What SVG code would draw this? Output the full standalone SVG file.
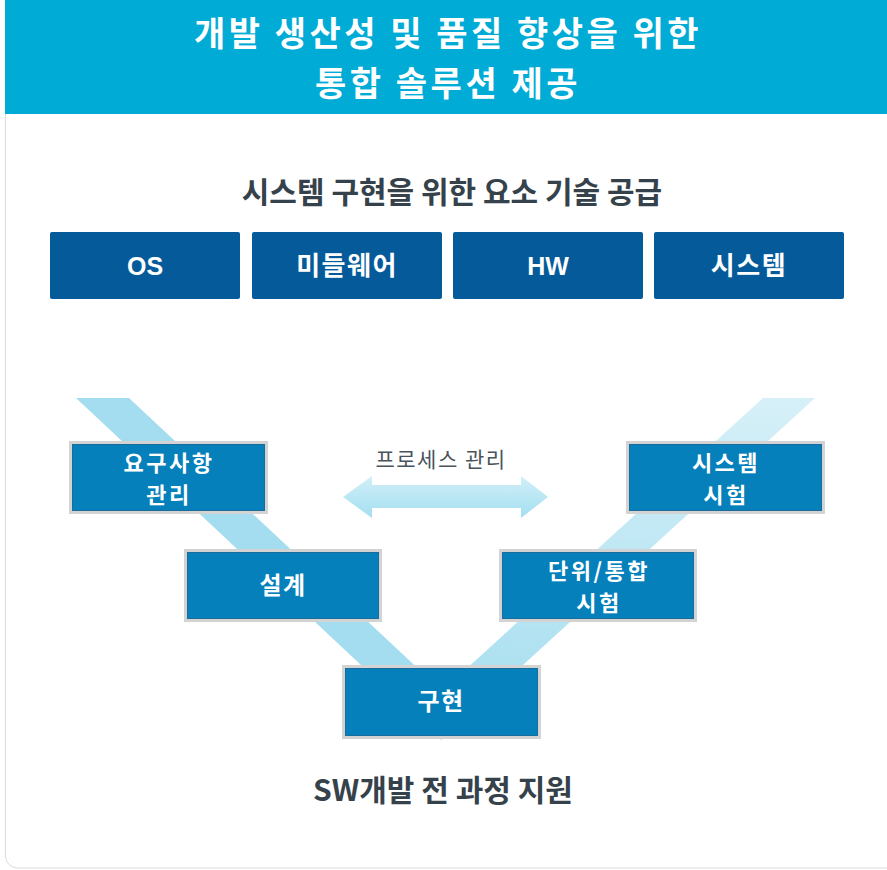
<svg xmlns="http://www.w3.org/2000/svg" width="887" height="870" viewBox="0 0 887 870">
  <defs>
    <linearGradient id="gRight" x1="0" y1="398" x2="0" y2="740" gradientUnits="userSpaceOnUse">
      <stop offset="0" stop-color="#d6f0f8"/>
      <stop offset="1" stop-color="#a3ddef"/>
    </linearGradient>
    <linearGradient id="gArrow" x1="0" y1="0" x2="0" y2="1">
      <stop offset="0" stop-color="#d2eff8"/>
      <stop offset="1" stop-color="#a3dff0"/>
    </linearGradient>
    <style>
      .title { font-family: "Noto Sans CJK KR", "Noto Sans", sans-serif; font-weight: 700; font-size: 34px; letter-spacing: 3.5px; fill: #ffffff; text-anchor: middle; }
      .sub { font-family: "Noto Sans CJK KR", "Noto Sans", sans-serif; font-weight: 700; font-size: 30px; fill: #36424b; text-anchor: middle; }
      .tbox { fill: #055b9a; }
      .ttext { font-family: "Liberation Sans", "Noto Sans CJK KR", sans-serif; font-weight: 700; font-size: 25px; fill: #ffffff; text-anchor: middle; }
      .ktext2 { font-family: "Noto Sans CJK KR", "Noto Sans", sans-serif; font-weight: 700; font-size: 26px; letter-spacing: 1.5px; fill: #ffffff; text-anchor: middle; }
      .kbox { fill: #0580bb; stroke: #d3d3d3; stroke-width: 3; }
      .kin { fill: none; stroke: #1a6c9c; stroke-width: 1; }
      .ktext { font-family: "Noto Sans CJK KR", "Noto Sans", sans-serif; font-weight: 700; font-size: 24px; letter-spacing: 1.5px; fill: #ffffff; text-anchor: middle; }
      .ktext3 { font-family: "Noto Sans CJK KR", "Noto Sans", sans-serif; font-weight: 700; font-size: 22px; letter-spacing: 2.5px; fill: #ffffff; text-anchor: middle; }
      .plabel { font-family: "Noto Sans CJK KR", "Noto Sans", sans-serif; font-weight: 400; font-size: 21px; letter-spacing: 1.5px; fill: #4a545c; text-anchor: middle; }
    </style>
  </defs>

  <rect x="0" y="0" width="887" height="870" fill="#ffffff"/>
  <!-- card -->
  <rect id="card" x="5.5" y="-12" width="892" height="880" rx="12" fill="#ffffff" stroke="#dcdcdc" stroke-width="1"/>
  <!-- header -->
  <g id="header">
    <rect x="5" y="0" width="882" height="114" fill="#00abd6"/>
    <text class="title" x="448" y="46">개발 생산성 및 품질 향상을 위한</text>
    <text class="title" x="448" y="96">통합 솔루션 제공</text>
  </g>

  <text id="subtitle" class="sub" x="452" y="203">시스템 구현을 위한 요소 기술 공급</text>

  <g id="node-os">
    <rect class="tbox" x="50" y="232" width="190" height="67" rx="2"/>
    <text class="ttext" x="145" y="275">OS</text>
  </g>
  <g id="node-middleware">
    <rect class="tbox" x="252" y="232" width="190" height="67" rx="2"/>
    <text class="ktext2" x="347" y="275">미들웨어</text>
  </g>
  <g id="node-hw">
    <rect class="tbox" x="453" y="232" width="190" height="67" rx="2"/>
    <text class="ttext" x="548" y="275">HW</text>
  </g>
  <g id="node-system">
    <rect class="tbox" x="654" y="232" width="190" height="67" rx="2"/>
    <text class="ktext2" x="749" y="275">시스템</text>
  </g>

  <!-- V band -->
  <g id="connectors">
    <polygon points="76,398 129,398 442,691 441,740" fill="#a3ddef"/>
    <polygon points="442,691 763,398 815,398 441,740" fill="url(#gRight)"/>
    <polygon points="343,497 372,476 372,485 521,485 521,476 548,497 521,518 521,508 372,508 372,518" fill="url(#gArrow)"/>
  </g>

  <text id="process-label" class="plabel" x="441" y="467">프로세스 관리</text>

  <g id="node-req">
    <rect class="kbox" x="70.5" y="442.5" width="196" height="70"/>
    <rect class="kin" x="72.5" y="444.5" width="192" height="66"/>
    <text class="ktext3" x="169" y="471">요구사항</text>
    <text class="ktext3" x="169" y="503">관리</text>
  </g>
  <g id="node-design">
    <rect class="kbox" x="185.5" y="550.5" width="195" height="70"/>
    <rect class="kin" x="187.5" y="552.5" width="191" height="66"/>
    <text class="ktext" x="283" y="594">설계</text>
  </g>
  <g id="node-impl">
    <rect class="kbox" x="343.5" y="666.5" width="196" height="71"/>
    <rect class="kin" x="345.5" y="668.5" width="192" height="67"/>
    <text class="ktext" x="441" y="710">구현</text>
  </g>
  <g id="node-unit">
    <rect class="kbox" x="500.5" y="550.5" width="195" height="70"/>
    <rect class="kin" x="502.5" y="552.5" width="191" height="66"/>
    <text class="ktext3" x="599" y="579">단위/통합</text>
    <text class="ktext3" x="599" y="611">시험</text>
  </g>
  <g id="node-systest">
    <rect class="kbox" x="627.5" y="442.5" width="196" height="70"/>
    <rect class="kin" x="629.5" y="444.5" width="192" height="66"/>
    <text class="ktext3" x="726" y="471">시스템</text>
    <text class="ktext3" x="726" y="503">시험</text>
  </g>

  <text id="footer-label" class="sub" x="443" y="801">SW개발 전 과정 지원</text>
</svg>
